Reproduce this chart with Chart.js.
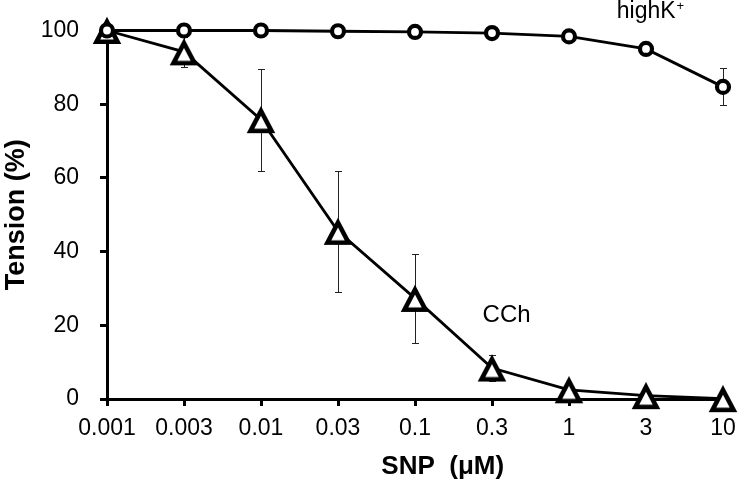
<!DOCTYPE html>
<html>
<head>
<meta charset="utf-8">
<script src="https://cdn.jsdelivr.net/npm/chart.js@4/dist/chart.umd.min.js"></script>
<style>
  html, body { margin: 0; padding: 0; background: #fff; }
  #wrap { width: 741px; height: 486px; position: relative; }
</style>
</head>
<body>
<div id="wrap"><canvas id="c" width="741" height="486"></canvas></div>
<script>
// ---- data ----
const categories = ['0.001', '0.003', '0.01', '0.03', '0.1', '0.3', '1', '3', '10'];
const highKValues = [100, 100, 100, 99.8, 99.6, 99.3, 98.4, 95.0, 84.7];
const highKErrors = [0, 0, 0, 0, 0, 0, 0.5, 1, 5];
const cchValues = [100, 94.2, 75.8, 45.5, 27.3, 8.4, 2.5, 0.9, 0.1];
const cchErrors = [0, 4, 13.8, 16.5, 12, 3.6, 0, 0, 0];
const yTickValues = [0, 20, 40, 60, 80, 100];
const seriesNames = ['highK', 'CCh'];
const xTitle = 'SNP  (\u03bcM)';
const yTitle = 'Tension (%)';

const FONT = "'Liberation Sans', Arial, Helvetica, sans-serif";
const TARGET_TOP = 30.5;
const TARGET_RIGHT = 723;

function makeTriangle(w, h, lw) {
  const pad = lw * 2 + 2;
  const cv = document.createElement('canvas');
  cv.width = Math.ceil(w + pad * 2);
  cv.height = Math.ceil(h + pad * 2);
  const ctx = cv.getContext('2d');
  const cx = cv.width / 2, cy = cv.height / 2 + 1.3;
  ctx.beginPath();
  ctx.moveTo(cx, cy - h / 2);
  ctx.lineTo(cx + w / 2, cy + h / 2);
  ctx.lineTo(cx - w / 2, cy + h / 2);
  ctx.closePath();
  ctx.fillStyle = '#fff';
  ctx.fill();
  ctx.lineWidth = lw;
  ctx.lineJoin = 'miter';
  ctx.strokeStyle = '#000';
  ctx.stroke();
  return cv;
}
const triangleImg = makeTriangle(21, 20, 4.6);

const errorBars = {
  id: 'errorBars',
  beforeDatasetsDraw(chart) {
    const ctx = chart.ctx;
    const xs = chart.scales.x, ys = chart.scales.y;
    const sets = [[highKValues, highKErrors], [cchValues, cchErrors]];
    ctx.save();
    ctx.strokeStyle = '#222';
    ctx.lineWidth = 1;
    sets.forEach(([vals, errs]) => {
      vals.forEach((v, i) => {
        const e = errs[i];
        if (!e) return;
        const x = Math.round(xs.getPixelForValue(i)) + 0.5;
        const y1 = Math.round(ys.getPixelForValue(v + e)) + 0.5;
        const y2 = Math.round(ys.getPixelForValue(v - e)) + 0.5;
        ctx.beginPath();
        ctx.moveTo(x, y1); ctx.lineTo(x, y2);
        ctx.moveTo(x - 3.5, y1); ctx.lineTo(x + 3.5, y1);
        ctx.moveTo(x - 3.5, y2); ctx.lineTo(x + 3.5, y2);
        ctx.stroke();
      });
    });
    ctx.restore();
  }
};

const textLayer = {
  id: 'textLayer',
  afterDraw(chart) {
    const ctx = chart.ctx;
    const xs = chart.scales.x, ys = chart.scales.y;
    ctx.save();
    ctx.fillStyle = '#000';
    ctx.textBaseline = 'middle';
    ctx.textAlign = 'left';
    ctx.font = '23px ' + FONT;
    // highK+
    let x = xs.getPixelForValue(6.62);
    let y = ys.getPixelForValue(105);
    ctx.fillText(seriesNames[0], x, y);
    const w = ctx.measureText(seriesNames[0]).width;
    ctx.font = '13px ' + FONT;
    ctx.fillText('+', x + w + 1, y - 6);
    // CCh
    ctx.font = '24px ' + FONT;
    ctx.textAlign = 'center';
    ctx.fillText(seriesNames[1], xs.getPixelForValue(5.19), ys.getPixelForValue(22.8));
    // x axis title (offset right like the reference)
    ctx.font = 'bold 26px ' + FONT;
    ctx.fillText(xTitle, xs.getPixelForValue(4.36), 467);
    ctx.restore();
  }
};

const chart = new Chart(document.getElementById('c'), {
  type: 'line',
  data: {
    labels: categories,
    datasets: [
      {
        label: 'highK+',
        data: highKValues,
        borderColor: '#000',
        borderWidth: 2.8,
        pointStyle: 'circle',
        pointRadius: 6,
        pointBorderWidth: 4.2,
        pointBackgroundColor: '#fff',
        pointBorderColor: '#000',
        tension: 0,
        clip: false
      },
      {
        label: 'CCh',
        data: cchValues,
        borderColor: '#000',
        borderWidth: 2.8,
        pointStyle: triangleImg,
        pointRadius: 13,
        tension: 0,
        clip: false
      }
    ]
  },
  options: {
    responsive: false,
    animation: false,
    events: [],
    layout: { padding: { top: TARGET_TOP, right: 741 - TARGET_RIGHT, left: 0, bottom: 0 } },
    plugins: { legend: { display: false }, tooltip: { enabled: false } },
    scales: {
      x: {
        type: 'category',
        offset: false,
        afterFit(s) { s.height = 87; s.paddingLeft = 0; s.paddingRight = 0; },
        border: { display: true, color: '#000', width: 3 },
        grid: { drawOnChartArea: false, drawTicks: true, tickLength: 7, tickWidth: 3, tickColor: '#000' },
        ticks: { color: '#000', font: { family: FONT, size: 23 }, padding: 9, maxRotation: 0, autoSkip: false },
        title: { display: false }
      },
      y: {
        min: 0,
        max: 100,
        afterFit(s) { s.width = 107; s.paddingTop = 0; s.paddingBottom = 0; },
        afterBuildTicks(s) { s.ticks = yTickValues.map(v => ({ value: v })); },
        border: { display: true, color: '#000', width: 3 },
        grid: { drawOnChartArea: false, drawTicks: true, tickLength: 7, tickWidth: 3, tickColor: '#000' },
        ticks: { color: '#000', font: { family: FONT, size: 23 }, padding: 21 },
        title: { display: true, text: yTitle, color: '#000', font: { family: FONT, size: 27, weight: 'bold' }, padding: { top: 0, bottom: 0 } }
      }
    }
  },
  plugins: [errorBars, textLayer]
});

// correct the plot-area edges if the layout pushed them elsewhere
const pad = chart.options.layout.padding;
const dTop = chart.chartArea.top - TARGET_TOP;
const dRight = TARGET_RIGHT - chart.chartArea.right;
if (Math.abs(dTop) > 0.3 || Math.abs(dRight) > 0.3) {
  pad.top = Math.max(0, pad.top - dTop);
  pad.right = Math.max(0, pad.right - dRight);
  chart.update();
}
</script>
</body>
</html>
